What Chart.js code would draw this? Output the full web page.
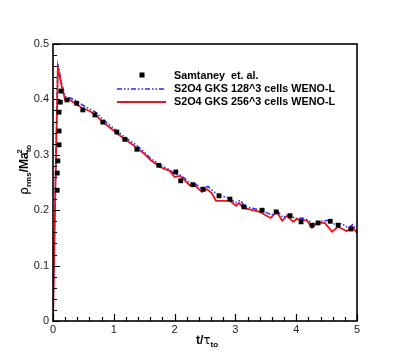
<!DOCTYPE html>
<html>
<head>
<meta charset="utf-8">
<script src="https://cdn.jsdelivr.net/npm/chart.js@4"></script>
<style>
  body { margin: 0; background: #fff; }
  #wrap { width: 407px; height: 362px; }
</style>
</head>
<body>
<div id="wrap"><canvas id="rhoChart" width="407" height="362"></canvas></div>
<script>
// Samtaney et al. reference points
const samT = [0.07, 0.07, 0.08, 0.10, 0.10, 0.10, 0.12, 0.13, 0.23, 0.39, 0.49, 0.69, 0.82, 1.05, 1.18, 1.38,
  1.74, 2.02, 2.10, 2.30, 2.47, 2.73, 2.91, 3.14, 3.44, 3.67, 3.90, 4.08, 4.26, 4.36, 4.56, 4.69, 4.90];
const samRho = [0.236, 0.267, 0.289, 0.318, 0.343, 0.377, 0.395, 0.415, 0.399, 0.393, 0.381, 0.372, 0.359, 0.341, 0.328, 0.310,
  0.281, 0.269, 0.253, 0.246, 0.238, 0.226, 0.220, 0.206, 0.200, 0.197, 0.190, 0.179, 0.173, 0.177, 0.180, 0.173, 0.166];

// 128^3 run (blue)
const blueT = [0, 0.02, 0.05, 0.08, 0.14, 0.2, 0.3, 0.4, 0.5, 0.6, 0.7, 0.82, 0.95, 1.05, 1.18, 1.3, 1.4, 1.5, 1.6, 1.76,
  1.9, 2.0, 2.1, 2.25, 2.35, 2.45, 2.55, 2.65, 2.75, 2.9, 3.0, 3.08, 3.15, 3.3, 3.45, 3.6, 3.68, 3.78, 3.88, 3.98,
  4.1, 4.2, 4.28, 4.4, 4.55, 4.65, 4.75, 4.85, 4.93, 5.0];
const blueRho = [0, 0.13, 0.31, 0.464, 0.43, 0.405, 0.402, 0.396, 0.389, 0.383, 0.377, 0.364, 0.352, 0.343, 0.332, 0.323, 0.315, 0.305, 0.294, 0.282,
  0.274, 0.266, 0.263, 0.250, 0.247, 0.238, 0.243, 0.233, 0.226, 0.222, 0.213, 0.218, 0.207, 0.203, 0.199, 0.191, 0.200, 0.187, 0.193, 0.185,
  0.186, 0.182, 0.174, 0.180, 0.182, 0.173, 0.176, 0.168, 0.174, 0.163];

// 256^3 run (red)
const redT = [0, 0.02, 0.05, 0.08, 0.14, 0.2, 0.28, 0.4, 0.49, 0.6, 0.69, 0.82, 0.95, 1.05, 1.18, 1.3, 1.38, 1.5, 1.6, 1.76,
  1.92, 2.0, 2.09, 2.25, 2.34, 2.45, 2.53, 2.61, 2.68, 2.91, 3.01, 3.06, 3.13, 3.4, 3.58, 3.68, 3.77, 3.85, 3.95, 4.01,
  4.18, 4.26, 4.34, 4.47, 4.59, 4.69, 4.83, 4.92, 5.0];
const redRho = [0, 0.12, 0.30, 0.458, 0.425, 0.399, 0.399, 0.39, 0.384, 0.379, 0.373, 0.359, 0.348, 0.339, 0.328, 0.319, 0.312, 0.302, 0.291, 0.278,
  0.271, 0.260, 0.262, 0.245, 0.244, 0.233, 0.238, 0.231, 0.217, 0.217, 0.208, 0.213, 0.204, 0.197, 0.186, 0.197, 0.181, 0.190, 0.179, 0.184,
  0.181, 0.168, 0.177, 0.177, 0.161, 0.170, 0.162, 0.170, 0.159];

const xTicks = [0, 1, 2, 3, 4, 5];
const yTicks = [0, 0.1, 0.2, 0.3, 0.4, 0.5];
const yTickLabels = ["0", "0.1", "0.2", "0.3", "0.4", "0.5"];

const legendLabels = ["Samtaney  et. al.", "S2O4 GKS 128^3 cells WENO-L", "S2O4 GKS 256^3 cells WENO-L"];

const BLUE = "#2a2aff";
const RED = "#e8141c";
const BLUE_DASH = [5, 2, 1.5, 2, 1.5, 2];

function pairs(xs, ys) {
  return xs.map((x, i) => ({ x: x, y: ys[i] }));
}

// draws a string with sub/superscript parts
function richText(ctx, parts, x, y) {
  let cx = x;
  parts.forEach(p => {
    ctx.font = p.font;
    ctx.fillText(p.t, cx, y + (p.dy || 0));
    cx += ctx.measureText(p.t).width + (p.gap || 0);
  });
}
function richWidth(ctx, parts) {
  let w = 0;
  parts.forEach(p => { ctx.font = p.font; w += ctx.measureText(p.t).width + (p.gap || 0); });
  return w;
}

const framePlugin = {
  id: "frame",
  afterDraw(chart) {
    const ctx = chart.ctx;
    const a = chart.chartArea;
    const xs = chart.scales.x, ys = chart.scales.y;
    ctx.save();
    ctx.strokeStyle = "#000";
    // inward ticks, left and bottom
    ctx.lineWidth = 1.2;
    ctx.beginPath();
    for (let i = 0; i <= 25; i++) {
      const px = Math.round(xs.getPixelForValue(i * 0.2)) + 0.5;
      const len = (i % 5 === 0) ? 7 : 4;
      ctx.moveTo(px, a.bottom);
      ctx.lineTo(px, a.bottom - len);
    }
    for (let i = 0; i <= 25; i++) {
      const py = Math.round(ys.getPixelForValue(i * 0.02)) + 0.5;
      const len = (i % 5 === 0) ? 7 : 4;
      ctx.moveTo(a.left, py);
      ctx.lineTo(a.left + len, py);
    }
    ctx.stroke();
    // box
    ctx.lineWidth = 1.6;
    ctx.strokeRect(a.left, a.top, a.right - a.left, a.bottom - a.top);

    // legend
    ctx.fillStyle = "#000";
    ctx.textBaseline = "middle";
    ctx.textAlign = "left";
    ctx.font = "bold 10.8px 'Liberation Sans', Arial, sans-serif";
    ctx.fillRect(139.5, 72.5, 5, 5);
    ctx.fillText(legendLabels[0], 174, 76);
    ctx.strokeStyle = BLUE;
    ctx.lineWidth = 1.5;
    ctx.setLineDash(BLUE_DASH);
    ctx.beginPath(); ctx.moveTo(117, 89); ctx.lineTo(166, 89); ctx.stroke();
    ctx.setLineDash([]);
    ctx.fillText(legendLabels[1], 174, 89);
    ctx.strokeStyle = RED;
    ctx.lineWidth = 1.8;
    ctx.beginPath(); ctx.moveTo(117, 102); ctx.lineTo(166, 102); ctx.stroke();
    ctx.fillText(legendLabels[2], 174, 102);

    // x title: t/tau_to
    ctx.textBaseline = "alphabetic";
    const big = "bold 12px 'Liberation Sans', Arial, sans-serif";
    const greek = "12px 'DejaVu Sans', sans-serif";
    const sub = "bold 8px 'Liberation Sans', Arial, sans-serif";
    const xParts = [
      { t: "t/", font: big },
      { t: "τ", font: greek },
      { t: "to", font: sub, dy: 3 }
    ];
    const cx = (a.left + a.right) / 2;
    richText(ctx, xParts, cx - richWidth(ctx, xParts) / 2 + 2, 344);

    // y title: rho_rms / Ma_to^2
    ctx.save();
    ctx.translate(28, 172);
    ctx.rotate(-Math.PI / 2);
    const yParts = [
      { t: "ρ", font: greek },
      { t: "rms", font: sub, dy: 3 },
      { t: "/Ma", font: big },
      { t: "to", font: sub, dy: 3, gap: -9 },
      { t: "2", font: sub, dy: -6 }
    ];
    richText(ctx, yParts, -richWidth(ctx, yParts) / 2, 0);
    ctx.restore();
    ctx.restore();
  }
};

new Chart(document.getElementById("rhoChart"), {
  type: "scatter",
  data: {
    datasets: [
      {
        label: legendLabels[0],
        data: pairs(samT, samRho),
        pointStyle: "rect",
        pointRadius: 3.4,
        backgroundColor: "#000",
        borderWidth: 0,
        showLine: false,
        order: 0
      },
      {
        label: legendLabels[1],
        data: pairs(blueT, blueRho),
        showLine: true,
        borderColor: BLUE,
        borderWidth: 1.5,
        borderDash: BLUE_DASH,
        pointRadius: 0,
        order: 2
      },
      {
        label: legendLabels[2],
        data: pairs(redT, redRho),
        showLine: true,
        borderColor: RED,
        borderWidth: 1.8,
        pointRadius: 0,
        order: 1
      }
    ]
  },
  options: {
    responsive: false,
    animation: false,
    events: [],
    layout: { padding: { left: 0, right: 50, top: 44, bottom: 0 } },
    plugins: { legend: { display: false }, tooltip: { enabled: false } },
    scales: {
      x: {
        type: "linear",
        min: 0,
        max: 5,
        afterFit(s) { s.height = 41; },
        afterBuildTicks(s) { s.ticks = xTicks.map(v => ({ value: v })); },
        grid: { display: false, drawTicks: false },
        border: { display: false },
        ticks: {
          autoSkip: false,
          padding: 2,
          color: "#222",
          font: { family: "'Liberation Sans', Arial, sans-serif", size: 11 },
          callback: v => String(v)
        }
      },
      y: {
        type: "linear",
        min: 0,
        max: 0.5,
        afterFit(s) { s.width = 53; },
        afterBuildTicks(s) { s.ticks = yTicks.map(v => ({ value: v })); },
        grid: { display: false, drawTicks: false },
        border: { display: false },
        ticks: {
          autoSkip: false,
          padding: 4,
          color: "#222",
          font: { family: "'Liberation Sans', Arial, sans-serif", size: 11 },
          callback: (v, i) => yTickLabels[i]
        }
      }
    }
  },
  plugins: [framePlugin]
});
</script>
</body>
</html>
